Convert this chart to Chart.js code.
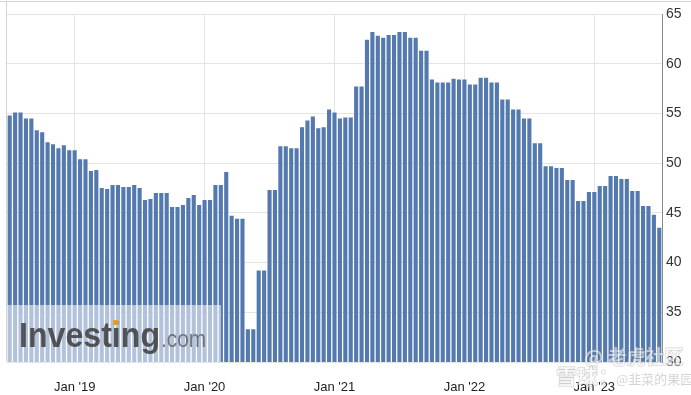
<!DOCTYPE html>
<html>
<head>
<meta charset="utf-8">
<script src="https://cdn.jsdelivr.net/npm/chart.js@4"></script>
<style>
html,body{margin:0;padding:0;background:#fff;}
#wrap{width:691px;height:395px;}
</style>
</head>
<body>
<div id="wrap"><canvas id="c" width="691" height="395"></canvas></div>
<script>
// Categories: semi-monthly periods from Jul 2018 to Jul 2023
const startYear = 2018, startMonth = 7, periodCount = 121;
const categories = [];
for (let i = 0; i < periodCount; i++) {
  const mIdx = startMonth - 1 + Math.floor(i / 2);
  const y = startYear + Math.floor(mIdx / 12);
  const m = (mIdx % 12) + 1;
  categories.push(y + '-' + String(m).padStart(2, '0') + (i % 2 === 0 ? 'a' : 'b'));
}

const values = [
  54.8, 55.1, 55.1, 54.5, 54.5, 53.3, 53.1, 52.1, 51.9, 51.5,
  51.8, 51.3, 51.3, 50.4, 50.4, 49.2, 49.3, 47.5, 47.4, 47.8,
  47.8, 47.6, 47.6, 47.8, 47.5, 46.3, 46.4, 47.0, 47.0, 47.0,
  45.6, 45.6, 45.8, 46.5, 46.8, 45.8, 46.3, 46.3, 47.8, 47.8,
  49.1, 44.7, 44.4, 44.4, 33.3, 33.3, 39.2, 39.2, 47.3, 47.3,
  51.7, 51.7, 51.5, 51.5, 53.6, 54.3, 54.7, 53.5, 53.6, 55.4,
  55.1, 54.5, 54.6, 54.6, 57.7, 57.7, 62.4, 63.2, 62.8, 62.6,
  62.9, 62.9, 63.2, 63.2, 62.6, 62.6, 61.3, 61.3, 58.4, 58.1,
  58.1, 58.1, 58.5, 58.4, 58.4, 57.9, 57.9, 58.6, 58.6, 58.1,
  58.1, 56.4, 56.4, 55.4, 55.4, 54.5, 54.5, 52.0, 52.0, 49.7,
  49.7, 49.5, 49.5, 48.3, 48.3, 46.2, 46.2, 47.1, 47.1, 47.7,
  47.7, 48.7, 48.7, 48.4, 48.4, 47.2, 47.2, 45.7, 45.7, 44.8,
  43.5
];

const tickLabels = {
  '2019-01a': "Jan '19",
  '2020-01a': "Jan '20",
  '2021-01a': "Jan '21",
  '2022-01a': "Jan '22",
  '2023-01a': "Jan '23"
};

const yMin = 30, yMax = 65, yStep = 5;

const framePlugin = {
  id: 'frame',
  beforeDraw(chart) {
    const ctx = chart.ctx, a = chart.chartArea;
    ctx.save();
    ctx.strokeStyle = '#d4d4d4';
    ctx.lineWidth = 1;
    ctx.beginPath();
    ctx.moveTo(0, 1.5); ctx.lineTo(691, 1.5);
    ctx.moveTo(a.left - 0.5, 1.5); ctx.lineTo(a.left - 0.5, a.bottom);
    ctx.stroke();
    ctx.restore();
  },
  afterDraw(chart) {
    const ctx = chart.ctx, a = chart.chartArea;
    ctx.save();
    // Investing.com watermark
    ctx.fillStyle = 'rgba(255,255,255,0.55)';
    ctx.fillRect(a.left, 305, 221 - a.left, a.bottom - 305);
    ctx.fillStyle = 'rgba(60,60,60,0.85)';
    ctx.font = 'bold 35px "Liberation Sans", Arial, sans-serif';
    ctx.textBaseline = 'alphabetic';
    const w = ctx.measureText('Investing').width;
    ctx.save();
    ctx.translate(19, 347);
    ctx.scale(141 / w, 1);
    ctx.fillText('Investing', 0, 0);
    ctx.restore();
    ctx.fillStyle = 'rgba(232,160,40,0.95)';
    ctx.fillRect(113, 320, 5, 5);
    ctx.fillStyle = 'rgba(90,90,90,0.8)';
    ctx.font = '24px "Liberation Sans", Arial, sans-serif';
    const w2 = ctx.measureText('.com').width;
    ctx.save();
    ctx.translate(161, 347);
    ctx.scale(45 / w2, 1);
    ctx.fillText('.com', 0, 0);
    ctx.restore();
    // Xueqiu watermark
    ctx.lineWidth = 1;
    ctx.font = 'bold 19px "Noto Sans CJK SC", sans-serif';
    ctx.fillStyle = 'rgba(255,255,255,0.55)';
    ctx.strokeStyle = 'rgba(150,150,150,0.45)';
    ctx.strokeText('@ 老虎社区', 584, 364);
    ctx.fillText('@ 老虎社区', 584, 364);
    ctx.font = 'bold 21px "Noto Sans CJK SC", sans-serif';
    ctx.strokeText('雪球：', 556, 384);
    ctx.fillText('雪球：', 556, 384);
    ctx.font = '13px "Noto Sans CJK SC", sans-serif';
    ctx.fillStyle = 'rgba(170,170,170,0.5)';
    ctx.fillText('@韭菜的果园', 616, 384);
    ctx.restore();
  }
};

new Chart(document.getElementById('c'), {
  type: 'bar',
  data: {
    labels: categories,
    datasets: [{
      data: values,
      backgroundColor: '#5479ae',
      borderWidth: 0,
      barPercentage: 0.76,
      categoryPercentage: 1.0
    }]
  },
  options: {
    responsive: false,
    animation: false,
    devicePixelRatio: 1,
    layout: { padding: { top: 14, left: 0, right: 0, bottom: 0 } },
    plugins: { legend: { display: false }, tooltip: { enabled: false } },
    scales: {
      x: {
        offset: true,
        grid: {
          offset: false,
          drawTicks: false,
          color: (c) => (c.tick && tickLabels[categories[c.index]]) ? '#e4e4e4' : 'rgba(0,0,0,0)'
        },
        border: { display: false },
        ticks: {
          autoSkip: false,
          maxRotation: 0,
          minRotation: 0,
          padding: 18,
          color: '#222',
          font: { size: 13, family: '"Liberation Sans", Arial, sans-serif' },
          callback: (v, i) => tickLabels[categories[i]] || ''
        },
        afterFit: (s) => { s.height = 33; s.paddingLeft = 7; }
      },
      y: {
        position: 'right',
        min: yMin,
        max: yMax,
        ticks: {
          stepSize: yStep,
          padding: 4,
          color: '#333',
          font: { size: 14, family: '"Liberation Sans", Arial, sans-serif' }
        },
        grid: { color: '#e4e4e4', drawTicks: false },
        border: { display: true, color: '#8a8a8a' },
        afterFit: (s) => { s.width = 29; }
      }
    }
  },
  plugins: [framePlugin]
});
</script>
</body>
</html>
